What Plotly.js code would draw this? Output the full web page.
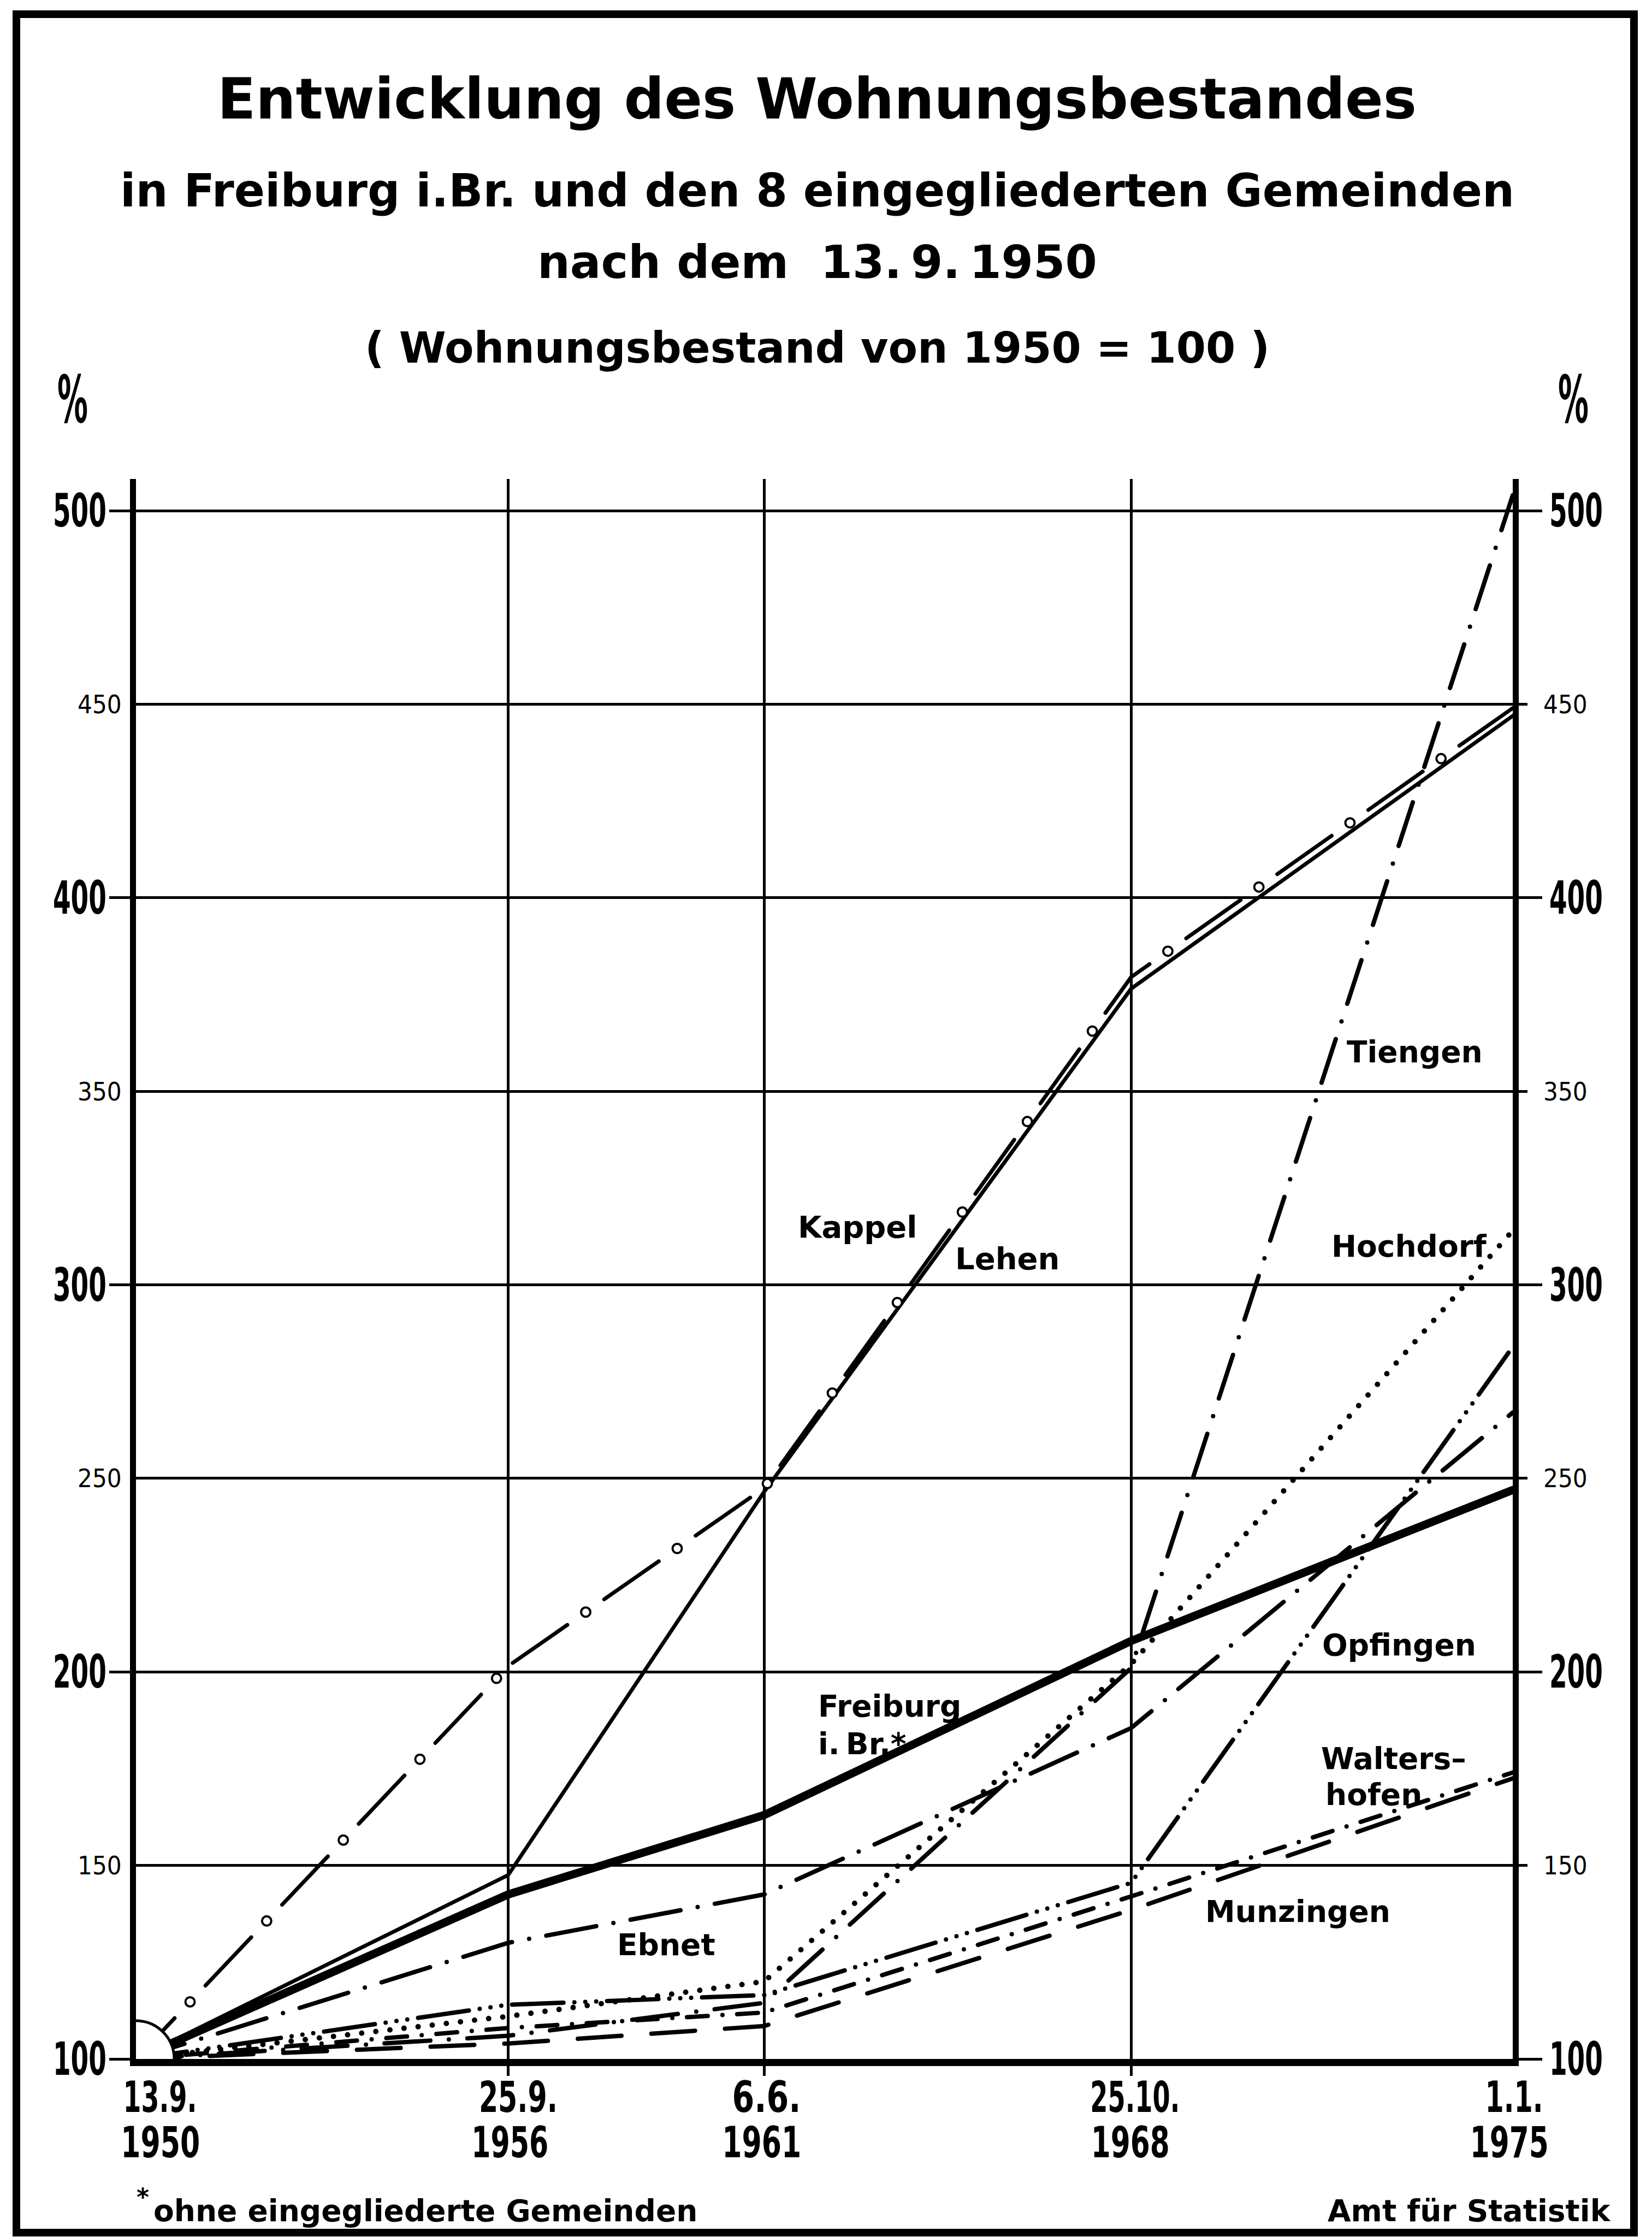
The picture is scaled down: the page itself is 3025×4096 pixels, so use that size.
<!DOCTYPE html>
<html>
<head>
<meta charset="utf-8">
<script src="https://cdn.plot.ly/plotly-3.0.1.min.js"></script>
<style>
  html, body { margin: 0; padding: 0; background: #ffffff; }
  #chart { width: 3025px; height: 4096px; }
  .scatterlayer .js-line { stroke-linecap: round !important; }
</style>
</head>
<body>
<div id="chart"></div>
<script>
// ---------------- data ----------------
const censusDates = ['13.9.', '25.9.', '6.6.', '25.10.', '1.1.'];
const censusYears = ['1950', '1956', '1961', '1968', '1975'];
// where each census date sits on the drawn (non-uniform) time axis, in per mille of the axis length
const censusPos = [0, 270.3, 456.2, 722.8, 1000];

const freiburg     = [100, 142.5, 163,   208,   247];
const kappel       = [100, 147.5, 246.5, 376.5, 447];
const lehen        = [100, 201.5, 247.5, 379.5, 449];
const tiengen      = [100, 106,   114.5, 201,   504];
const hochdorf     = [100, 111,   120,   202,   314];
const ebnet        = [100, 130,   142.5, 185.5, 267];
const opfingen     = [100, 114,   116.5, 145.5, 284];
const waltershofen = [100, 108,   112,   142,   174];
const munzingen    = [100, 104,   108.5, 138.5, 172.5];

const majorTicks = [100, 200, 300, 400, 500];
const minorTicks = [150, 250, 350, 450];

// ---------------- geometry / styles ----------------
const W = 3025, H = 4096;
const PL = 249, PR = 2770, PT = 877, PB = 3770;
const YMAX = 508.2;
const px2paperX = px => (px - PL) / (PR - PL);
const px2paperY = py => (PB - py) / (PB - PT);

const BLACK = '#000000';
const F_BOLD = 'DejaVu Sans, Liberation Sans, sans-serif';
const F_NARROW = '"Liberation Sans Narrow", "DejaVu Sans Condensed", "Liberation Sans", sans-serif';

function lineTrace(y, width, dash, yaxis) {
  return {
    x: censusPos, y: y, type: 'scatter', mode: 'lines', yaxis: yaxis || 'y',
    line: { color: BLACK, width: width, dash: dash },
    hoverinfo: 'skip', showlegend: false
  };
}
const RING_PERIOD = 204;
function ringTrace(y, width, color) {
  return {
    x: censusPos, y: y, type: 'scatter', mode: 'lines',
    line: { color: color, width: width, dash: '0px,' + RING_PERIOD + 'px' },
    hoverinfo: 'skip', showlegend: false
  };
}

const traces = [
  lineTrace(munzingen, 8, '80px,55px'),
  lineTrace(waltershofen, 8, '38px,27px,0px,27px'),
  lineTrace(opfingen, 8, '94px,20px,0px,20px,0px,20px,0px,20px'),
  lineTrace(ebnet, 8, '93px,32px,0px,32px'),
  lineTrace(hochdorf, 10, '0px,26px'),
  lineTrace(tiengen, 8, '84px,34px,0px,34px'),
  lineTrace(kappel, 7, 'solid'),
  lineTrace(lehen, 7, '0px,41px,122px,41px'),   // index 7
  ringTrace(lehen, 21, BLACK),                   // index 8
  ringTrace(lehen, 13, '#ffffff'),               // index 9
  lineTrace(freiburg, 15, 'solid', 'y2')
];
const LEHEN_PATHS = [7, 8, 9];
const LEHEN_PHASE = 60;

const yBase = { range: [100, YMAX], fixedrange: true, zeroline: false, anchor: 'x', showticklabels: false };

const layout = {
  width: W, height: H,
  paper_bgcolor: '#ffffff', plot_bgcolor: '#ffffff',
  margin: { l: PL, r: W - PR, t: PT, b: H - PB, pad: 0 },
  showlegend: false,
  title: {
    text: 'Entwicklung des Wohnungsbestandes',
    font: { family: F_BOLD, size: 103, color: BLACK, weight: 'bold' },
    xref: 'container', yref: 'container',
    x: 1496 / W, y: 1 - 181 / H, xanchor: 'center', yanchor: 'middle'
  },
  xaxis: {
    range: [0, 1000], fixedrange: true, zeroline: false,
    tickvals: censusPos.slice(1, 4), showticklabels: false,
    ticks: 'outside', ticklen: 18, tickwidth: 5, tickcolor: BLACK,
    showgrid: true, gridcolor: BLACK, gridwidth: 5,
    showline: true, linecolor: BLACK, linewidth: 13
  },
  yaxis: Object.assign({}, yBase, {
    side: 'left', tickvals: majorTicks,
    ticks: 'outside', ticklen: 38, tickwidth: 5, tickcolor: BLACK,
    showgrid: true, gridcolor: BLACK, gridwidth: 5,
    showline: true, linecolor: BLACK, linewidth: 11,
    minor: { tickmode: 'array', tickvals: minorTicks, ticks: '', showgrid: true, gridcolor: BLACK, gridwidth: 5 }
  }),
  yaxis2: Object.assign({}, yBase, {
    overlaying: 'y', side: 'right', tickvals: majorTicks,
    ticks: 'outside', ticklen: 43, tickwidth: 5, tickcolor: BLACK,
    showgrid: false, showline: true, linecolor: BLACK, linewidth: 11,
    minor: { tickmode: 'array', tickvals: minorTicks, ticks: 'outside', ticklen: 16, tickwidth: 5, tickcolor: BLACK, showgrid: false }
  }),
  shapes: [
    // outer frame
    { type: 'rect', xref: 'paper', yref: 'paper',
      x0: px2paperX(30), x1: px2paperX(2992), y0: px2paperY(4088), y1: px2paperY(26),
      line: { color: BLACK, width: 14 }, fillcolor: 'rgba(0,0,0,0)', layer: 'below' },
    // quarter circle at the origin, where all curves start
    { type: 'circle', xref: 'x', yref: 'y', xsizemode: 'pixel', ysizemode: 'pixel',
      xanchor: 0, yanchor: 100, x0: -70, x1: 70, y0: -70, y1: 70,
      fillcolor: '#ffffff', line: { color: BLACK, width: 5 }, layer: 'above' }
  ],
  annotations: []
};

const condense = [];   // [annotation index, target width px]
function addText(text, xpx, ypx, size, family, xanchor, weight, width) {
  if (width) condense.push([layout.annotations.length, width]);
  layout.annotations.push({
    text: text, xref: 'paper', yref: 'paper',
    x: px2paperX(xpx), y: px2paperY(ypx), xanchor: xanchor || 'center', yanchor: 'middle',
    showarrow: false, borderpad: 0,
    font: { family: family, size: size, color: BLACK, weight: weight || 'bold' }
  });
}

// sub-title lines
addText('in Freiburg i.Br. und den 8 eingegliederten Gemeinden', 1496, 350, 83, F_BOLD);
addText('nach dem\u00a0 13.\u20099.\u20091950', 1496, 480, 84, F_BOLD);
addText('( Wohnungsbestand von 1950 = 100 )', 1496, 637, 78, F_BOLD);
// percent signs
addText('%', 133, 731, 120, F_NARROW, 'center', 'bold', 56);
addText('%', 2881, 731, 120, F_NARROW, 'center', 'bold', 56);
// series labels
addText('Kappel', 1570, 2246, 56, F_BOLD);
addText('Lehen', 1844, 2304, 56, F_BOLD);
addText('Tiengen', 2590, 1926, 55, F_BOLD);
addText('Hochdorf', 2580, 2282, 55, F_BOLD);
addText('Freiburg', 1497, 3124, 55, F_BOLD, 'left');
addText('i.\u2009Br.*', 1497, 3193, 55, F_BOLD, 'left');
addText('Ebnet', 1220, 3561, 55, F_BOLD);
addText('Opfingen', 2562, 3012, 55, F_BOLD);
addText('Walters\u2013', 2418, 3220, 55, F_BOLD, 'left');
addText('hofen', 2426, 3286, 55, F_BOLD, 'left');
addText('Munzingen', 2376, 3500, 55, F_BOLD);
// footer
addText('*', 249, 4022, 44, F_BOLD, 'left');
addText('ohne eingegliederte Gemeinden', 280, 4048, 55, F_BOLD, 'left');
addText('Amt für Statistik', 2951, 4048, 55, F_BOLD, 'right');

// value-axis labels (left and right, major bold, minor light)
function addTick(v, xpx, size, weight, width) {
  if (width) condense.push([layout.annotations.length, width]);
  layout.annotations.push({
    text: String(v), xref: 'paper', yref: 'y', x: px2paperX(xpx), y: v,
    xanchor: 'center', yanchor: 'middle', showarrow: false,
    font: { family: F_NARROW, size: size, color: BLACK, weight: weight }
  });
}
majorTicks.forEach(v => { addTick(v, 146, 84, 'bold', 98); addTick(v, 2886, 84, 'bold', 98); });
minorTicks.forEach(v => { addTick(v, 182, 47, 'normal'); addTick(v, 2866, 47, 'normal'); });

// date labels on the time axis (two rows)
const labelShift = [44, 19, 4, 7, 2];
const yearShift = [44, 3, -5, -2, -7];
const dateWidth = [135, 144, 126, 164, 106];
const yearWidth = [145, 141, 145, 144, 144];
censusPos.forEach((p, i) => {
  condense.push([layout.annotations.length, dateWidth[i]]);
  layout.annotations.push({
    text: censusDates[i], xref: 'x', yref: 'paper', x: p, y: px2paperY(3840),
    xanchor: 'center', yanchor: 'middle', xshift: labelShift[i], showarrow: false,
    font: { family: F_NARROW, size: 78, color: BLACK, weight: 'bold' }
  });
  condense.push([layout.annotations.length, yearWidth[i]]);
  layout.annotations.push({
    text: censusYears[i], xref: 'x', yref: 'paper', x: p, y: px2paperY(3923),
    xanchor: 'center', yanchor: 'middle', xshift: yearShift[i], showarrow: false,
    font: { family: F_NARROW, size: 78, color: BLACK, weight: 'bold' }
  });
});

Plotly.newPlot('chart', traces, layout, { staticPlot: true, displayModeBar: false }).then(gd => {
  // condensed lettering (the reference uses a tall, narrow typeface)
  condense.forEach(([idx, target]) => {
    const t = gd.querySelector('.annotation[data-index="' + idx + '"] text.annotation-text');
    if (!t) return;
    const w = t.getComputedTextLength();
    if (w > target) {
      t.setAttribute('lengthAdjust', 'spacingAndGlyphs');
      t.setAttribute('textLength', target.toFixed(1));
    }
  });
  // phase of the Lehen dash-and-circle pattern
  const tr = gd.querySelectorAll('.scatterlayer .trace');
  LEHEN_PATHS.forEach(i => {
    const p = tr[i] && tr[i].querySelector('path.js-line');
    if (p) p.style.strokeDashoffset = LEHEN_PHASE + 'px';
  });
});
</script>
</body>
</html>
